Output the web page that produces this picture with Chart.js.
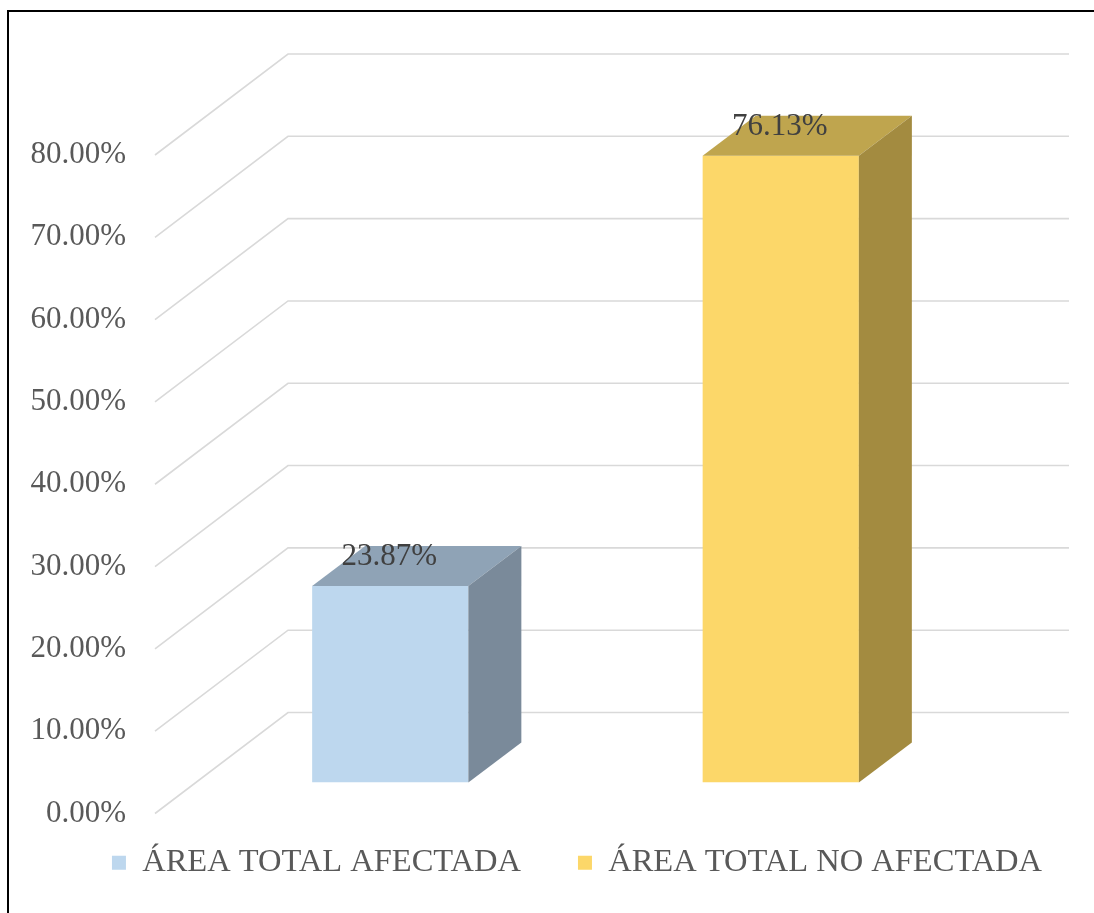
<!DOCTYPE html>
<html>
<head>
<meta charset="utf-8">
<script src="https://cdn.jsdelivr.net/npm/chart.js@4/dist/chart.umd.min.js"></script>
<style>
  html, body { margin: 0; padding: 0; background: #fff; }
  #frame { position: absolute; left: 7px; top: 10px; width: 2000px; height: 2000px;
           border-left: 2px solid #000; border-top: 2px solid #000; }
  #wrap { position: absolute; left: 0; top: 0; width: 1094px; height: 913px; }
</style>
</head>
<body>
<div id="frame"></div>
<div id="wrap"><canvas id="c" width="1094" height="913"></canvas></div>
<script>
const categories = ['ÁREA TOTAL AFECTADA', 'ÁREA TOTAL NO AFECTADA'];
const values = [23.87, 76.13];
const frontColors = ['#bdd7ee', '#fcd769'];
const topColors = ['#8fa3b6', '#bfa54e'];
const sideColors = ['#7a8a9a', '#a38b40'];
const yTicks = [0, 10, 20, 30, 40, 50, 60, 70, 80];

const FONT = "'Liberation Serif', 'Times New Roman', serif";
const FRONT = {dx: -40, dy: 31};   // axis front plane offset from bar front plane
const BARD = {dx: 53, dy: -40};    // bar depth
const BACK = {dx: 93, dy: -70};    // back wall offset

const threeD = {
  id: 'threeD',
  afterLayout(chart) {
    // widen and re-centre the legend box (centre at x = 577)
    if (chart.legend) { chart.legend.left = 30; chart.legend.right = 1124; }
  },
  beforeDatasetsDraw(chart) {
    const {ctx, chartArea, scales: {y}} = chart;
    ctx.save();
    ctx.strokeStyle = '#d9d9d9';
    ctx.lineWidth = 1.6;
    yTicks.forEach(v => {
      const py = y.getPixelForValue(v);
      ctx.beginPath();
      ctx.moveTo(chartArea.left + FRONT.dx, py + FRONT.dy);
      ctx.lineTo(chartArea.left + BACK.dx, py + BACK.dy);
      ctx.lineTo(chartArea.right + BACK.dx, py + BACK.dy);
      ctx.stroke();
    });
    ctx.restore();
  },
  afterDatasetsDraw(chart) {
    const {ctx} = chart;
    const meta = chart.getDatasetMeta(0);
    ctx.save();
    meta.data.forEach((bar, i) => {
      const w = bar.width;
      const l = bar.x - w / 2, r = bar.x + w / 2;
      const t = bar.y, b = bar.base;
      ctx.fillStyle = topColors[i];
      ctx.beginPath();
      ctx.moveTo(l, t);
      ctx.lineTo(l + BARD.dx, t + BARD.dy);
      ctx.lineTo(r + BARD.dx, t + BARD.dy);
      ctx.lineTo(r, t);
      ctx.closePath();
      ctx.fill();
      ctx.fillStyle = sideColors[i];
      ctx.beginPath();
      ctx.moveTo(r, t);
      ctx.lineTo(r + BARD.dx, t + BARD.dy);
      ctx.lineTo(r + BARD.dx, b + BARD.dy);
      ctx.lineTo(r, b);
      ctx.closePath();
      ctx.fill();
      ctx.fillStyle = '#404040';
      ctx.font = '31px ' + FONT;
      ctx.textAlign = 'center';
      ctx.textBaseline = 'middle';
      ctx.fillText(values[i].toFixed(2) + '%', bar.x - 1, t - 29);
    });
    ctx.restore();
  }
};

new Chart(document.getElementById('c'), {
  type: 'bar',
  data: {
    labels: categories,
    datasets: [{
      data: values,
      backgroundColor: frontColors,
      borderWidth: 0,
      categoryPercentage: 1.0,
      barPercentage: 0.4
    }]
  },
  options: {
    responsive: false,
    animation: false,
    events: [],
    layout: { padding: { left: 0, right: 0, top: 124, bottom: 24 } },
    scales: {
      x: {
        display: true,
        grid: { display: false, drawTicks: false },
        border: { display: false },
        ticks: { display: false },
        afterFit(s) { s.height = 7; }
      },
      y: {
        min: 0, max: 80,
        afterFit(s) { s.width = 195; },
        grid: { display: false, drawTicks: false },
        border: { display: false },
        ticks: {
          stepSize: 10,
          padding: 69,
          labelOffset: 31,
          color: '#595959',
          font: { family: FONT, size: 31 },
          callback: v => v.toFixed(2) + '%'
        }
      },
      yRight: {
        type: 'linear',
        position: 'right',
        display: true,
        min: 0, max: 80,
        afterFit(s) { s.width = 118; },
        grid: { display: false, drawTicks: false },
        border: { display: false },
        ticks: { display: false }
      }
    },
    plugins: {
      tooltip: { enabled: false },
      legend: {
        display: true,
        position: 'bottom',
        labels: {
          boxWidth: 14,
          boxHeight: 14,
          padding: 57,
          color: '#595959',
          font: { family: FONT, size: 32.5 },
          generateLabels(chart) {
            return categories.map((c, i) => ({
              text: c,
              fillStyle: frontColors[i],
              strokeStyle: frontColors[i],
              fontColor: '#595959',
              lineWidth: 0,
              hidden: false,
              index: i
            }));
          }
        }
      }
    }
  },
  plugins: [threeD]
});
</script>
</body>
</html>
